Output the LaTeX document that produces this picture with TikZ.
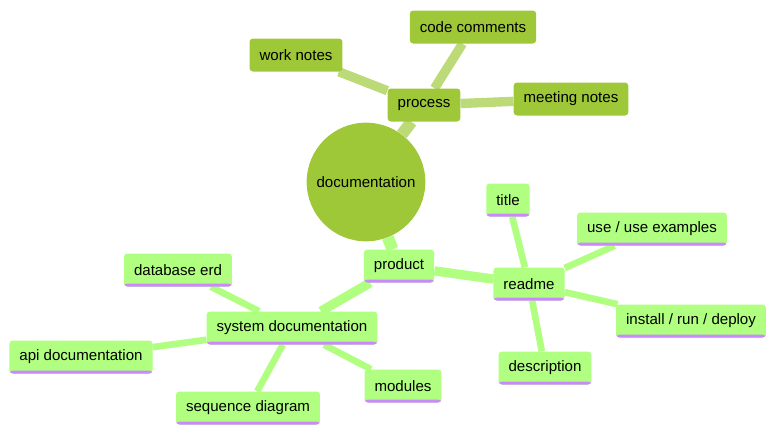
\documentclass[tikz,border=0pt]{standalone}
\usepackage{fontspec}
\setmainfont{Liberation Sans}
\usetikzlibrary{backgrounds}
\definecolor{rootgreen}{RGB}{158,200,55}
\definecolor{procedge}{RGB}{188,219,120}
\definecolor{prodgreen}{RGB}{176,255,128}
\definecolor{underl}{RGB}{204,136,255}

\begin{document}
\begin{tikzpicture}[x=0.75pt, y=-0.75pt, font=\fontsize{11.3}{13}\selectfont,
  box/.style={rounded corners=2.5pt, minimum height=24.75pt, inner xsep=7.5pt, inner ysep=0pt},
  proc/.style={box, fill=rootgreen},
  prod/.style={box, fill=prodgreen, path picture={\fill[underl] (path picture bounding box.south west) rectangle ([yshift=2.2pt]path picture bounding box.south east);}},
  lvlone/.style={line width=9pt},
  lvltwo/.style={line width=7pt},
  lvlthree/.style={line width=5pt}]
\useasboundingbox (0,0) rectangle (784,439);
% root
\node[circle, fill=rootgreen, minimum size=89pt, inner sep=0pt] (root) at (366,182) {documentation};
% process branch
\node[proc] (process) at (424,105) {process};
\node[proc] (work) at (296,55) {work notes};
\node[proc] (code) at (473,27) {code comments};
\node[proc] (meeting) at (571,99) {meeting notes};
% product branch
\node[prod] (product) at (399,266) {product};
\node[prod] (readme) at (529,284) {readme};
\node[prod] (title) at (508,200) {title};
\node[prod] (useex) at (652,229) {use / use examples};
\node[prod] (install) at (691,321) {install / run / deploy};
\node[prod] (descr) at (545,368) {description};
\node[prod] (sysdoc) at (292,328) {system documentation};
\node[prod] (erd) at (178,270) {database erd};
\node[prod] (api) at (81,357) {api documentation};
\node[prod] (modules) at (403,386) {modules};
\node[prod] (seq) at (248,408) {sequence diagram};
\begin{pgfonlayer}{background}
\draw[lvlone, procedge] (root) -- (process);
\draw[lvlone, prodgreen] (root) -- (product);
\foreach \n in {work, code, meeting} \draw[lvltwo, procedge] (process) -- (\n);
\foreach \n in {readme, sysdoc} \draw[lvltwo, prodgreen] (product) -- (\n);
\foreach \n in {title, useex, install, descr} \draw[lvlthree, prodgreen] (readme) -- (\n);
\foreach \n in {erd, api, modules, seq} \draw[lvlthree, prodgreen] (sysdoc) -- (\n);
\end{pgfonlayer}
\end{tikzpicture}
\end{document}
